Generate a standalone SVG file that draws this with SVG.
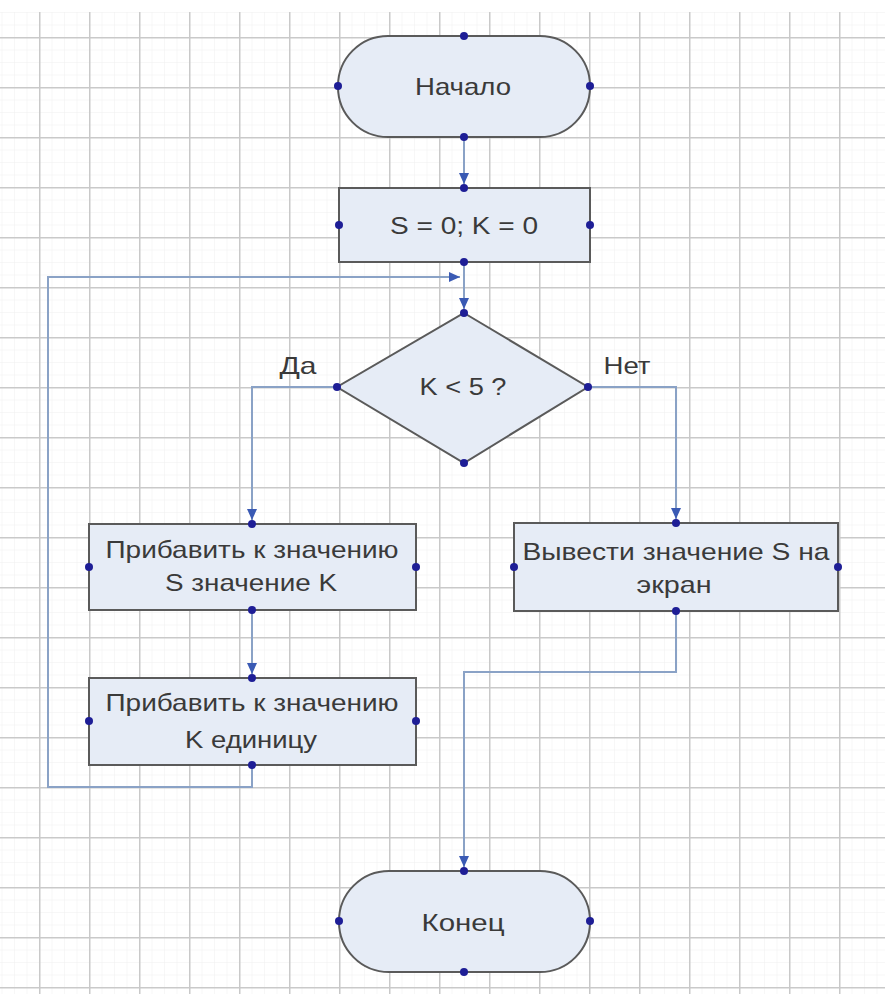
<svg xmlns="http://www.w3.org/2000/svg" width="885" height="994" viewBox="0 0 885 994">
<defs>
<style>
.minor{stroke:#f0f0f0;stroke-width:1}
.major{stroke:#c9c9c9;stroke-width:1.5}
.shape{fill:#e6ecf6;stroke:#5a5a5a;stroke-width:2}
.lbl{font-family:"Liberation Sans",Arial,sans-serif;font-size:24px;fill:#3a3a3a;text-anchor:middle}
.conn{fill:none;stroke:#8aa2c6;stroke-width:2}
.pt{fill:#1e1e96}
</style>
<marker id="arr" markerUnits="userSpaceOnUse" markerWidth="14" markerHeight="14" viewBox="0 0 14 14" refX="13" refY="7" orient="auto">
<path d="M2,2 L13,7 L2,12 Z" fill="#3a5ab4"/>
</marker>
<pattern id="minorGrid" x="39" y="37" width="12.5" height="12.5" patternUnits="userSpaceOnUse">
<path d="M0,0 H12.5 M0,0 V12.5" class="minor"/>
</pattern>
<pattern id="majorGrid" x="39" y="37" width="50" height="50" patternUnits="userSpaceOnUse">
<path d="M0,0.75 H50 M0.75,0 V50" class="major"/>
</pattern>
</defs>
<rect width="885" height="994" fill="#ffffff"/>
<rect x="0" y="12" width="885" height="982" fill="url(#minorGrid)"/>
<rect x="0" y="12" width="885" height="982" fill="url(#majorGrid)"/>

<g id="connectors">
<path class="conn" d="M464,137 V184" marker-end="url(#arr)"/>
<path class="conn" d="M464,262 V309" marker-end="url(#arr)"/>
<path class="conn" d="M252,765 V787 H48 V277 H460" marker-end="url(#arr)"/>
<path class="conn" d="M337,387 H252 V520" marker-end="url(#arr)"/>
<path class="conn" d="M588,387 H676 V519" marker-end="url(#arr)"/>
<path class="conn" d="M252,610 V674" marker-end="url(#arr)"/>
<path class="conn" d="M676,611 V672 H464 V867" marker-end="url(#arr)"/>
<text class="lbl" x="298" y="374" textLength="37" lengthAdjust="spacingAndGlyphs">Да</text>
<text class="lbl" x="627" y="374" textLength="47" lengthAdjust="spacingAndGlyphs">Нет</text>
</g>

<g id="start">
<rect class="shape" x="338" y="36" width="252" height="101" rx="50" ry="50"/>
<text class="lbl" x="463" y="95" textLength="96" lengthAdjust="spacingAndGlyphs">Начало</text>
<circle class="pt" cx="464" cy="36" r="4"/><circle class="pt" cx="464" cy="137" r="4"/>
<circle class="pt" cx="338" cy="86" r="4"/><circle class="pt" cx="590" cy="86" r="4"/>
</g>

<g id="init">
<rect class="shape" x="339" y="188" width="251" height="74"/>
<text class="lbl" x="464" y="234" textLength="148" lengthAdjust="spacingAndGlyphs">S = 0; K = 0</text>
<circle class="pt" cx="464" cy="188" r="4"/><circle class="pt" cx="464" cy="262" r="4"/>
<circle class="pt" cx="339" cy="225" r="4"/><circle class="pt" cx="590" cy="225" r="4"/>
</g>

<g id="decision">
<polygon class="shape" points="464,313 588,387 464,463 337,387"/>
<text class="lbl" x="463" y="395" textLength="87" lengthAdjust="spacingAndGlyphs">K &lt; 5 ?</text>
<circle class="pt" cx="464" cy="313" r="4"/><circle class="pt" cx="464" cy="463" r="4"/>
<circle class="pt" cx="337" cy="387" r="4"/><circle class="pt" cx="588" cy="387" r="4"/>
</g>

<g id="addK">
<rect class="shape" x="89" y="524" width="327" height="86"/>
<text class="lbl" x="252" y="558" textLength="293" lengthAdjust="spacingAndGlyphs">Прибавить к значению</text>
<text class="lbl" x="251" y="591" textLength="172" lengthAdjust="spacingAndGlyphs">S значение K</text>
<circle class="pt" cx="252" cy="524" r="4"/><circle class="pt" cx="252" cy="610" r="4"/>
<circle class="pt" cx="89" cy="567" r="4"/><circle class="pt" cx="416" cy="567" r="4"/>
</g>

<g id="incK">
<rect class="shape" x="89" y="678" width="327" height="87"/>
<text class="lbl" x="252" y="711" textLength="293" lengthAdjust="spacingAndGlyphs">Прибавить к значению</text>
<text class="lbl" x="251" y="748" textLength="132" lengthAdjust="spacingAndGlyphs">K единицу</text>
<circle class="pt" cx="252" cy="678" r="4"/><circle class="pt" cx="252" cy="765" r="4"/>
<circle class="pt" cx="89" cy="721" r="4"/><circle class="pt" cx="416" cy="721" r="4"/>
</g>

<g id="output">
<rect class="shape" x="514" y="523" width="324" height="88"/>
<text class="lbl" x="676" y="560" textLength="307" lengthAdjust="spacingAndGlyphs">Вывести значение S на</text>
<text class="lbl" x="674" y="593" textLength="75" lengthAdjust="spacingAndGlyphs">экран</text>
<circle class="pt" cx="676" cy="523" r="4"/><circle class="pt" cx="676" cy="611" r="4"/>
<circle class="pt" cx="514" cy="567" r="4"/><circle class="pt" cx="838" cy="567" r="4"/>
</g>

<g id="end">
<rect class="shape" x="339" y="871" width="251" height="101" rx="50" ry="50"/>
<text class="lbl" x="463" y="931" textLength="83" lengthAdjust="spacingAndGlyphs">Конец</text>
<circle class="pt" cx="464" cy="871" r="4"/><circle class="pt" cx="464" cy="972" r="4"/>
<circle class="pt" cx="339" cy="921" r="4"/><circle class="pt" cx="590" cy="921" r="4"/>
</g>
</svg>
